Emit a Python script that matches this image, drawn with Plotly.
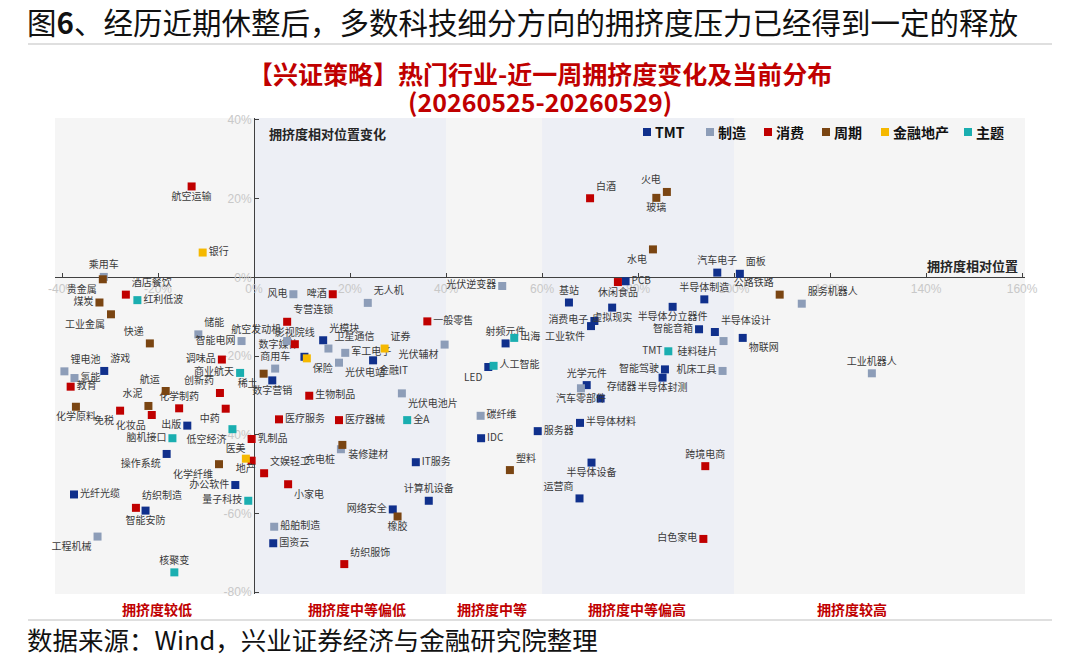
import plotly.graph_objects as go

# ---------------- data ----------------
categories = ["TMT", "制造", "消费", "周期", "金融地产", "主题"]

tmt_names = ["游戏", "出版", "操作系统", "光纤光缆", "智能安防", "办公软件", "数字营销", "数字媒体", "国资云", "光模块",
             "金融IT", "IT服务", "计算机设备", "网络安全", "LED", "射频元件", "IDC", "服务器", "基站", "PCB",
             "消费电子", "工业软件", "虚拟现实", "半导体分立器件", "半导体制造", "汽车电子", "面板", "智能音箱", "半导体设计", "物联网",
             "智能驾驶", "半导体封测", "光学元件", "存储器", "半导体材料", "半导体设备", "运营商"]
tmt_x = [-31.2, -13.9, -18.2, -37.5, -22.6, -3.9, 3.8, 10.5, 4.0, 14.4,
         24.8, 33.7, 36.4, 28.9, 48.8, 52.4, 47.3, 59.1, 65.6, 77.4,
         70.9, 70.2, 74.6, 87.2, 93.8, 96.5, 101.2, 92.7, 96.0, 101.8,
         85.6, 85.1, 69.3, 72.2, 67.9, 70.3, 67.8]
tmt_y = [-23.8, -37.7, -44.9, -55.2, -59.3, -52.8, -26.2, -20.2, -67.6, -16.0,
         -21.1, -47.0, -56.8, -59.0, -22.8, -16.8, -40.9, -39.1, -6.4, -1.0,
         -11.1, -12.4, -7.7, -7.5, -5.6, 1.2, 0.9, -13.2, -13.9, -15.4,
         -23.4, -25.5, -27.4, -30.8, -37.0, -47.1, -56.2]

mfg_names = ["乘用车", "储能", "智能电网", "航空发动机", "锂电池", "氢能", "风电", "无人机", "卫星通信", "军工电子",
             "光伏电站", "商用车", "光伏辅材", "光伏逆变器", "光伏电池片", "碳纤维", "硅料硅片", "机床工具", "汽车零部件", "服务机器人",
             "工业机器人", "充电桩", "船舶制造", "工程机械"]
mfg_x = [-31.3, -11.6, -2.6, 6.9, -39.5, -37.4, 8.2, 23.7, 15.5, 19.0,
         17.7, 4.4, 39.7, 51.7, 30.8, 47.2, 97.8, 97.6, 68.1, 114.1,
         128.7, 18.1, 4.2, -32.6]
mfg_y = [0.1, -14.5, -16.2, -16.2, -23.9, -25.6, -4.3, -6.5, -18.1, -19.2,
         -21.7, -23.2, -17.1, -2.2, -29.5, -35.2, -16.2, -23.8, -28.2, -6.7,
         -24.4, -43.7, -63.4, -65.9]

con_names = ["航空运输", "酒店餐饮", "调味品", "教育", "免税", "化妆品", "化学制药", "创新药", "中药", "乳制品",
             "医美", "文娱轻工", "小家电", "纺织制造", "专营连锁", "影视院线", "啤酒", "一般零售", "生物制品", "医疗服务",
             "医疗器械", "纺织服饰", "白酒", "休闲食品", "跨境电商", "白色家电"]
con_x = [-13.0, -26.7, -6.7, -38.2, -27.9, -21.3, -15.6, -7.1, -5.9, -0.5,
         -0.5, 2.1, 7.1, -24.6, 6.9, 8.5, 16.4, 36.1, 11.5, 5.2,
         17.7, 18.8, 70.0, 75.8, 94.0, 93.6]
con_y = [23.1, -4.4, -20.9, -27.8, -33.9, -35.0, -33.3, -29.4, -33.4, -41.1,
         -46.6, -49.8, -52.6, -58.6, -11.3, -17.0, -4.3, -11.2, -30.1, -36.1,
         -36.3, -72.9, 20.1, -1.2, -48.0, -66.5]

cyc_names = ["贵金属", "煤炭", "工业金属", "快递", "化学原料", "航运", "水泥", "稀土", "化学纤维", "装修建材",
             "橡胶", "塑料", "火电", "玻璃", "水电", "公路铁路"]
cyc_x = [-31.5, -32.2, -29.8, -21.7, -37.1, -18.4, -22.0, 2.0, -7.3, 18.4,
         29.9, 53.3, 86.0, 83.8, 83.1, 109.5]
cyc_y = [-0.5, -6.4, -9.4, -16.8, -32.9, -28.9, -32.7, -24.5, -47.5, -42.6,
         -60.8, -49.0, 21.7, 20.2, 7.1, -4.4]

fin_names = ["银行", "证券", "保险", "地产"]
fin_x = [-10.7, 27.2, 11.0, -1.7]
fin_y = [6.3, -18.1, -20.6, -46.1]

thm_names = ["红利低波", "商业航天", "低空经济", "脑机接口", "量子科技", "核聚变", "全A", "出海", "人工智能", "TMT"]
thm_x = [-24.3, -2.9, -4.5, -17.0, -1.2, -16.6, 31.9, 54.2, 49.9, 86.3]
thm_y = [-5.8, -24.3, -38.6, -40.9, -56.8, -75.0, -36.3, -15.4, -22.5, -18.8]

x_tick_vals = [-40, -20, 0, 20, 40, 60, 80, 100, 120, 140, 160]
x_tick_text = ["-40%", "-20%", "0%", "20%", "40%", "60%", "80%", "100%", "120%", "140%", "160%"]
y_tick_vals = [-80, -60, -40, -20, 0, 20, 40]
y_tick_text = ["-80%", "-60%", "-40%", "-20%", "0%", "20%", "40%"]

zone_names = ["拥挤度较低", "拥挤度中等偏低", "拥挤度中等", "拥挤度中等偏高", "拥挤度较高"]
zone_edges = [-41.46, 0, 40, 60, 100, 160.6]
zone_label_x = [-20.2, 21.5, 49.6, 79.8, 124.6]

# ---------------- styles / layout ----------------
W, H = 1080, 658
ML, MR, MT, MB = 55, 55, 118, 64
PW, PH = W - ML - MR, H - MT - MB


def px_x(p):  # pixel -> paper x
    return (p - ML) / PW


def px_y(p):  # pixel -> paper y
    return (H - MB - p) / PH


colors = {"TMT": "#10308c", "制造": "#8d9db8", "消费": "#c00000",
          "周期": "#7a4512", "金融地产": "#f5b800", "主题": "#1aaeb0"}
zone_fill = ["#f5f5f5", "#edeff5", "#f5f5f5", "#edeff5", "#f5f5f5"]
legend_sym_px = [647, 710, 768, 826, 885, 968]
legend_y_px = 132

label_pos = {
    "游戏": "top right", "出版": "middle left", "操作系统": "bottom left", "光纤光缆": "middle right",
    "智能安防": "bottom center", "办公软件": "middle left", "数字营销": "bottom center", "数字媒体": "top left",
    "国资云": "middle right", "光模块": "top right", "金融IT": "bottom right", "IT服务": "middle right",
    "计算机设备": "top center", "网络安全": "middle left", "LED": "bottom left", "射频元件": "top center",
    "IDC": "middle right", "服务器": "middle right", "基站": "top center", "PCB": "middle right",
    "消费电子": "middle left", "工业软件": "bottom left", "虚拟现实": "bottom center", "半导体分立器件": "bottom center",
    "半导体制造": "top center", "汽车电子": "top center", "面板": "top right", "智能音箱": "middle left",
    "半导体设计": "top right", "物联网": "bottom right", "智能驾驶": "middle left", "半导体封测": "bottom center",
    "光学元件": "top center", "存储器": "top right", "半导体材料": "middle right", "半导体设备": "bottom center",
    "运营商": "top left",
    "乘用车": "top center", "储能": "top right", "智能电网": "middle left", "航空发动机": "top left",
    "锂电池": "top right", "氢能": "middle right", "风电": "middle left", "无人机": "top right",
    "卫星通信": "top right", "军工电子": "middle right", "光伏电站": "bottom right", "商用车": "top center",
    "光伏辅材": "bottom left", "光伏逆变器": "middle left", "光伏电池片": "bottom right", "碳纤维": "middle right",
    "硅料硅片": "bottom left", "机床工具": "middle left", "汽车零部件": "bottom center", "服务机器人": "top right",
    "工业机器人": "top center", "充电桩": "bottom left", "船舶制造": "middle right", "工程机械": "bottom left",
    "航空运输": "bottom center", "酒店餐饮": "top right", "调味品": "middle left", "教育": "middle right",
    "免税": "bottom left", "化妆品": "bottom left", "化学制药": "top center", "创新药": "top left",
    "中药": "bottom left", "乳制品": "middle right", "医美": "top left", "文娱轻工": "top right",
    "小家电": "bottom right", "纺织制造": "top right", "专营连锁": "top right", "影视院线": "top center",
    "啤酒": "middle left", "一般零售": "middle right", "生物制品": "middle right", "医疗服务": "middle right",
    "医疗器械": "middle right", "纺织服饰": "top right", "白酒": "top right", "休闲食品": "bottom center",
    "跨境电商": "top center", "白色家电": "middle left",
    "贵金属": "bottom left", "煤炭": "middle left", "工业金属": "bottom left", "快递": "top left",
    "化学原料": "bottom center", "航运": "top left", "水泥": "top left", "稀土": "bottom left",
    "化学纤维": "bottom left", "装修建材": "bottom right", "橡胶": "bottom center", "塑料": "top right",
    "火电": "top left", "玻璃": "bottom center", "水电": "bottom left", "公路铁路": "top left",
    "银行": "middle right", "证券": "top right", "保险": "bottom right", "地产": "bottom center",
    "红利低波": "middle right", "商业航天": "middle left", "低空经济": "bottom left", "脑机接口": "middle left",
    "量子科技": "middle left", "核聚变": "top center", "全A": "middle right", "出海": "middle right",
    "人工智能": "middle right", "TMT": "middle left",
}

CJK = "Noto Sans CJK SC"
series = [
    ("TMT", tmt_names, tmt_x, tmt_y),
    ("制造", mfg_names, mfg_x, mfg_y),
    ("消费", con_names, con_x, con_y),
    ("周期", cyc_names, cyc_x, cyc_y),
    ("金融地产", fin_names, fin_x, fin_y),
    ("主题", thm_names, thm_x, thm_y),
]

fig = go.Figure()

for cat, names, xs, ys in series:
    fig.add_trace(go.Scatter(
        x=xs, y=ys, mode="markers+text", text=names,
        textposition=[label_pos.get(n, "middle right") for n in names],
        textfont=dict(family=CJK, size=10, color="#3a3a3a"),
        marker=dict(symbol="square", size=8, color=colors[cat]),
        name=cat, showlegend=False, cliponaxis=False, hoverinfo="text",
    ))

# background zones
for i in range(len(zone_names)):
    fig.add_shape(type="rect", xref="x", yref="paper",
                  x0=zone_edges[i], x1=zone_edges[i + 1], y0=0, y1=1,
                  fillcolor=zone_fill[i], line=dict(width=0), layer="below")

# zone labels under the plot
for name, xc in zip(zone_names, zone_label_x):
    fig.add_annotation(x=xc, xref="x", y=0, yref="paper", yanchor="top", yshift=-3,
                       text=name, showarrow=False,
                       font=dict(family=CJK, size=14, color="#c00000", weight="bold"))

# legend (category keys)
for cat, sx in zip(categories, legend_sym_px):
    fig.add_shape(type="rect", xref="paper", yref="paper",
                  x0=px_x(sx - 4), x1=px_x(sx + 4), y0=px_y(legend_y_px + 4), y1=px_y(legend_y_px - 4),
                  fillcolor=colors[cat], line=dict(width=0))
    fig.add_annotation(x=px_x(sx + 6), y=px_y(legend_y_px), xref="paper", yref="paper",
                       xanchor="left", yanchor="middle", text=cat, showarrow=False,
                       font=dict(family=CJK, size=14, color="#111111", weight="bold"))

x_min, x_max = zone_edges[0], zone_edges[-1]
y_min, y_max = -80.5, 40.5

fig.update_xaxes(range=[x_min, x_max], tickvals=x_tick_vals, ticktext=x_tick_text,
                 showgrid=False, zeroline=False, showline=True, linecolor="#404040", linewidth=1,
                 ticks="inside", ticklen=4, tickcolor="#404040",
                 tickfont=dict(family="Liberation Sans, Arial", size=12, color="#c8c8c8"),
                 anchor="free", position=(0 - y_min) / (y_max - y_min), layer="below traces")
fig.update_yaxes(range=[y_min, y_max], tickvals=y_tick_vals, ticktext=y_tick_text,
                 showgrid=False, zeroline=False, showline=True, linecolor="#404040", linewidth=1,
                 ticks="inside", ticklen=4, tickcolor="#404040",
                 tickfont=dict(family="Liberation Sans, Arial", size=12, color="#c8c8c8"),
                 anchor="free", position=(0 - x_min) / (x_max - x_min), layer="below traces")

# axis titles
fig.add_annotation(x=2.7, y=36.5, xref="x", yref="y", xanchor="left", text="拥挤度相对位置变化",
                   showarrow=False, font=dict(family=CJK, size=13, color="#262626", weight="bold"))
fig.add_annotation(x=159.5, y=3.0, xref="x", yref="y", xanchor="right", text="拥挤度相对位置",
                   showarrow=False, font=dict(family=CJK, size=13, color="#262626", weight="bold"))

# titles
fig.add_annotation(x=0.5, y=px_y(73), xref="paper", yref="paper", yanchor="middle",
                   text="【兴证策略】热门行业-近一周拥挤度变化及当前分布", showarrow=False,
                   font=dict(family=CJK, size=25, color="#c00000", weight="bold"))
fig.add_annotation(x=0.5, y=px_y(101), xref="paper", yref="paper", yanchor="middle",
                   text="(20260525-20260529)", showarrow=False,
                   font=dict(family=CJK, size=25, color="#c00000", weight="bold"))
fig.add_annotation(x=px_x(25), y=px_y(21), xref="paper", yref="paper", xanchor="left", yanchor="middle",
                   text="图<b>6</b>、经历近期休整后，多数科技细分方向的拥挤度压力已经得到一定的释放", showarrow=False,
                   font=dict(family=CJK, size=29.5, color="#111111"))
fig.add_annotation(x=px_x(25), y=px_y(638), xref="paper", yref="paper", xanchor="left", yanchor="middle",
                   text="数据来源：Wind，兴业证券经济与金融研究院整理", showarrow=False,
                   font=dict(family=CJK, size=25.5, color="#111111"))
# separator lines
for yp in [44, 620]:
    fig.add_shape(type="line", xref="paper", yref="paper", x0=px_x(28), x1=px_x(1052),
                  y0=px_y(yp), y1=px_y(yp), line=dict(color="#bfbfbf", width=1))

fig.update_layout(
    width=W, height=H,
    margin=dict(l=ML, r=MR, t=MT, b=MB, autoexpand=False),
    paper_bgcolor="white", plot_bgcolor="white",
    font=dict(family=CJK, color="#333333"),
    showlegend=False,
)

fig.write_html("out.html")
